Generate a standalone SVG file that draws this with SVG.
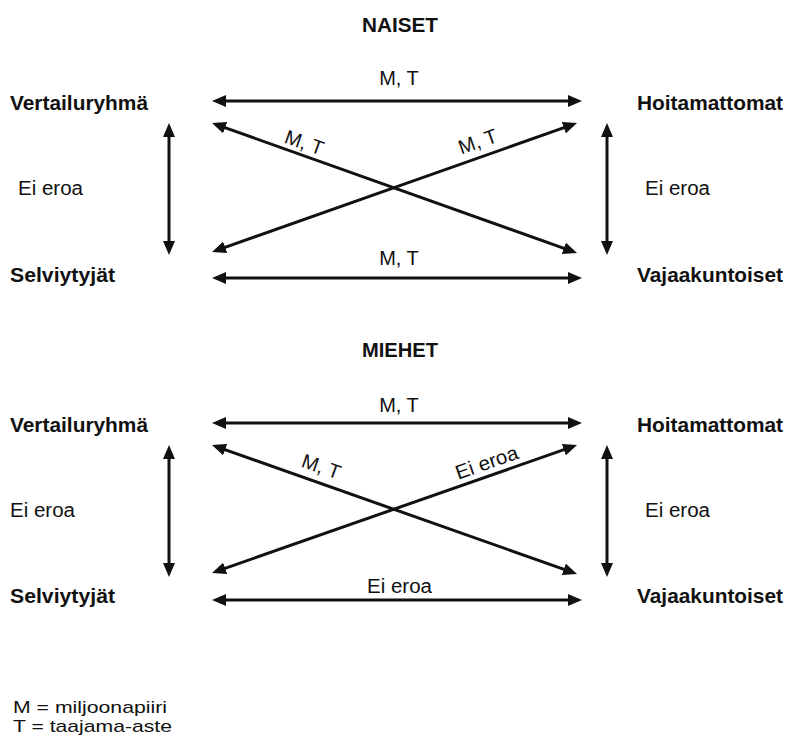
<svg xmlns="http://www.w3.org/2000/svg" width="788" height="741" viewBox="0 0 788 741">
  <style>
    text { font-family: "Liberation Sans", Arial, sans-serif; fill: #111; }
    .title { font-size: 20px; font-weight: bold; text-anchor: middle; }
    .node { font-size: 20.5px; font-weight: bold; }
    .lbl { font-size: 20px; }
    .leg { font-size: 17px; }
    .mid { text-anchor: middle; }
    .conn line { stroke: #111; stroke-width: 3; marker-start: url(#ah); marker-end: url(#ah); }
  </style>
  <defs>
    <marker id="ah" viewBox="0 0 14 12" refX="4" refY="6" markerWidth="14" markerHeight="12" markerUnits="userSpaceOnUse" orient="auto-start-reverse">
      <path d="M0,0 L14,6 L0,12 Z" fill="#111"/>
    </marker>
  </defs>
  <rect width="788" height="741" fill="#fff"/>

  <!-- Women -->
  <text class="title" x="400" y="32" textLength="76" lengthAdjust="spacingAndGlyphs">NAISET</text>
  <g id="n-vertailu"><text class="node" x="10" y="110" textLength="138" lengthAdjust="spacingAndGlyphs">Vertailuryhmä</text></g>
  <g id="n-hoitamattomat"><text class="node" x="637" y="110" textLength="146" lengthAdjust="spacingAndGlyphs">Hoitamattomat</text></g>
  <g id="n-selviytyjat"><text class="node" x="10" y="282" textLength="105" lengthAdjust="spacingAndGlyphs">Selviytyjät</text></g>
  <g id="n-vajaakuntoiset"><text class="node" x="637" y="282" textLength="146" lengthAdjust="spacingAndGlyphs">Vajaakuntoiset</text></g>

  <g id="n-connectors" class="conn">
    <line x1="222" y1="101" x2="572" y2="101"/>
    <line x1="222" y1="278" x2="572" y2="278"/>
    <line x1="169" y1="133" x2="169" y2="245"/>
    <line x1="607" y1="133" x2="607" y2="245"/>
    <line x1="221.4" y1="126.4" x2="567.6" y2="249.6"/>
    <line x1="221.4" y1="248.6" x2="567.6" y2="126.4"/>
  </g>
  <g id="n-labels">
    <text class="lbl mid" x="399" y="85">M, T</text>
    <text class="lbl mid" x="399" y="265">M, T</text>
    <text class="lbl" x="18" y="195" textLength="65" lengthAdjust="spacingAndGlyphs">Ei eroa</text>
    <text class="lbl" x="645" y="195" textLength="65" lengthAdjust="spacingAndGlyphs">Ei eroa</text>
    <text class="lbl mid" transform="translate(302,149) rotate(19.5)">M, T</text>
    <text class="lbl mid" transform="translate(480,148) rotate(-19.5)">M, T</text>
  </g>

  <!-- Men -->
  <text class="title" x="400" y="357" textLength="76" lengthAdjust="spacingAndGlyphs">MIEHET</text>
  <g id="m-vertailu"><text class="node" x="10" y="432" textLength="138" lengthAdjust="spacingAndGlyphs">Vertailuryhmä</text></g>
  <g id="m-hoitamattomat"><text class="node" x="637" y="432" textLength="146" lengthAdjust="spacingAndGlyphs">Hoitamattomat</text></g>
  <g id="m-selviytyjat"><text class="node" x="10" y="603" textLength="105" lengthAdjust="spacingAndGlyphs">Selviytyjät</text></g>
  <g id="m-vajaakuntoiset"><text class="node" x="637" y="603" textLength="146" lengthAdjust="spacingAndGlyphs">Vajaakuntoiset</text></g>

  <g id="m-connectors" class="conn">
    <line x1="222" y1="423" x2="572" y2="423"/>
    <line x1="222" y1="600" x2="572" y2="600"/>
    <line x1="169" y1="455" x2="169" y2="567"/>
    <line x1="607" y1="455" x2="607" y2="567"/>
    <line x1="221.4" y1="448.4" x2="567.6" y2="570.6"/>
    <line x1="221.4" y1="569.6" x2="567.6" y2="448.4"/>
  </g>
  <g id="m-labels">
    <text class="lbl mid" x="399" y="412">M, T</text>
    <text class="lbl mid" x="399.5" y="593" textLength="65" lengthAdjust="spacingAndGlyphs">Ei eroa</text>
    <text class="lbl" x="10" y="517" textLength="65" lengthAdjust="spacingAndGlyphs">Ei eroa</text>
    <text class="lbl" x="645" y="517" textLength="65" lengthAdjust="spacingAndGlyphs">Ei eroa</text>
    <text class="lbl mid" transform="translate(319,473) rotate(19.5)">M, T</text>
    <text class="lbl mid" transform="translate(489,469) rotate(-19.5)" textLength="65" lengthAdjust="spacingAndGlyphs">Ei eroa</text>
  </g>

  <!-- Legend -->
  <g id="legend">
    <text class="leg" x="13" y="713" textLength="154" lengthAdjust="spacingAndGlyphs">M = miljoonapiiri</text>
    <text class="leg" x="13" y="732" textLength="159" lengthAdjust="spacingAndGlyphs">T = taajama-aste</text>
  </g>
</svg>
